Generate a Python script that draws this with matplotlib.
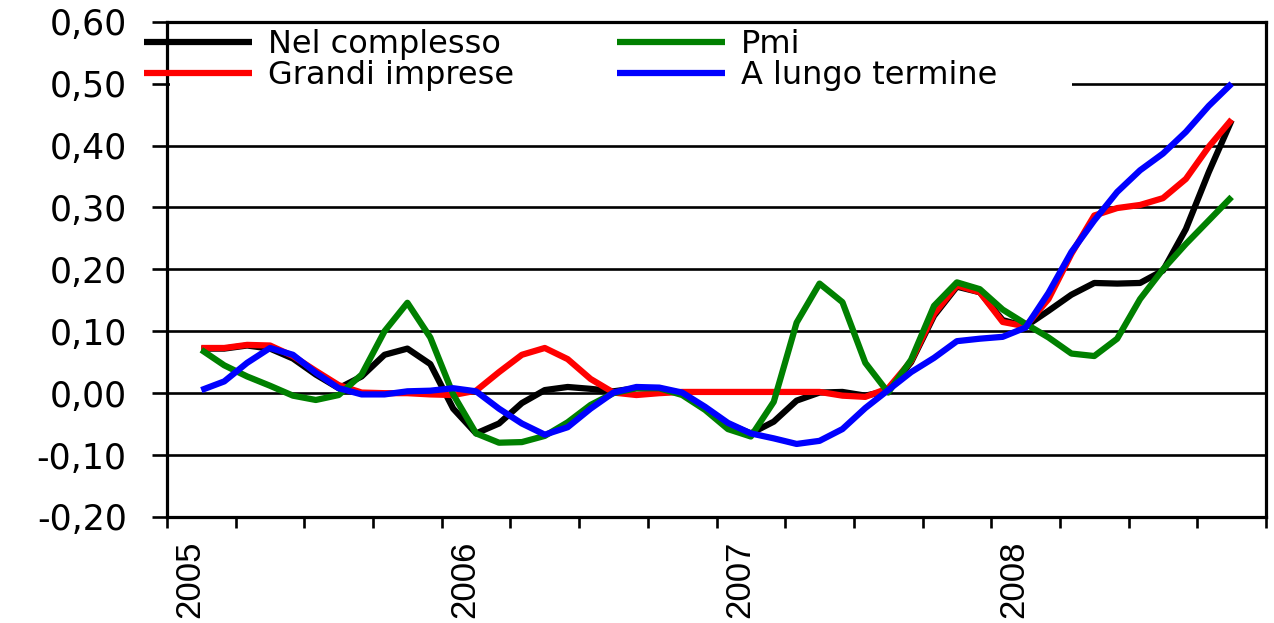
import matplotlib
matplotlib.use("Agg")
import matplotlib.pyplot as plt
from matplotlib.patches import Rectangle
import numpy as np

# ---------------- data ----------------
# month index counted from January 2005 (0 = Jan 2005)
months = list(range(1, 47))

nel_complesso = [0.072, 0.072, 0.077, 0.072, 0.056, 0.030, 0.008, 0.027, 0.062, 0.072,
                 0.047, -0.025, -0.065, -0.049, -0.016, 0.005, 0.010, 0.007, 0.003, 0.008,
                 0.007, 0.000, -0.025, -0.050, -0.065, -0.046, -0.012, 0.001, 0.002, -0.004,
                 0.004, 0.050, 0.125, 0.172, 0.163, 0.118, 0.108, 0.133, 0.159, 0.178,
                 0.177, 0.178, 0.198, 0.265, 0.357, 0.441]

grandi_imprese = [0.073, 0.073, 0.078, 0.077, 0.060, 0.036, 0.013, 0.001, 0.000, 0.000,
                  -0.002, -0.003, 0.004, 0.034, 0.062, 0.073, 0.055, 0.023, 0.001, -0.003,
                  0.000, 0.002, 0.002, 0.002, 0.002, 0.002, 0.002, 0.002, -0.004, -0.006,
                  0.008, 0.052, 0.128, 0.174, 0.163, 0.115, 0.108, 0.152, 0.225, 0.287,
                  0.299, 0.304, 0.315, 0.346, 0.398, 0.442]

pmi = [0.070, 0.045, 0.027, 0.012, -0.004, -0.011, -0.003, 0.030, 0.100, 0.146,
       0.090, -0.002, -0.065, -0.080, -0.079, -0.069, -0.047, -0.019, 0.000, 0.008,
       0.008, -0.003, -0.027, -0.058, -0.070, -0.014, 0.114, 0.177, 0.147, 0.049,
       0.001, 0.054, 0.141, 0.179, 0.168, 0.135, 0.112, 0.090, 0.064, 0.060,
       0.088, 0.152, 0.200, 0.241, 0.279, 0.317]

a_lungo_termine = [0.005, 0.019, 0.049, 0.073, 0.062, 0.033, 0.008, -0.002, -0.002, 0.003,
                   0.004, 0.008, 0.003, -0.025, -0.049, -0.067, -0.055, -0.025, 0.001, 0.010,
                   0.009, 0.001, -0.022, -0.048, -0.065, -0.073, -0.082, -0.077, -0.058, -0.024,
                   0.005, 0.034, 0.057, 0.084, 0.088, 0.091, 0.106, 0.162, 0.228, 0.279,
                   0.325, 0.360, 0.387, 0.422, 0.464, 0.500]

series_names = ["Nel complesso", "Grandi imprese", "Pmi", "A lungo termine"]
series_colors = ["#000000", "#ff0000", "#008000", "#0000ff"]

year_labels = ["2005", "2006", "2007", "2008"]
y_ticks = [-0.20, -0.10, 0.00, 0.10, 0.20, 0.30, 0.40, 0.50, 0.60]
y_tick_labels = ["-0,20", "-0,10", "0,00", "0,10", "0,20", "0,30", "0,40", "0,50", "0,60"]

# ---------------- figure ----------------
W, H = 1274, 623
fig = plt.figure(figsize=(W / 100, H / 100), dpi=100)
fig.patch.set_facecolor("white")
left, right, top, bottom = 167, 1266, 21.7, 517
ax = fig.add_axes([left / W, 1 - bottom / H, (right - left) / W, (bottom - top) / H])

x = np.array(months) + 0.5
handles = []
for vals, name, col in zip([nel_complesso, grandi_imprese, pmi, a_lungo_termine],
                           series_names, series_colors):
    ln, = ax.plot(x, vals, color=col, lw=4.5, label=name,
                  solid_joinstyle="round", solid_capstyle="butt", zorder=2)
    handles.append(ln)

ax.set_xlim(0, 48)
ax.set_ylim(-0.20, 0.60)

# y axis
ax.set_yticks(y_ticks)
ax.set_yticklabels(y_tick_labels, fontsize=25, family="DejaVu Sans")
ax.tick_params(axis="y", which="major", direction="out", length=11, width=1.9, pad=18,
               color="black")
ax.yaxis.grid(True, color="black", lw=1.9)
ax.set_axisbelow(True)

# x axis: quarterly tick marks, year labels
ax.set_xticks(np.arange(0, 49, 3))
ax.set_xticklabels([])
ax.tick_params(axis="x", which="major", direction="out", length=8, width=1.9, color="black")
ax.set_xticks([12 * k + 1.0 for k in range(len(year_labels))], minor=True)
ax.set_xticklabels(year_labels, minor=True, rotation=90, fontsize=25,
                   family="Liberation Sans")
ax.tick_params(axis="x", which="minor", length=0, pad=17)

for s in ax.spines.values():
    s.set_color("black")
    s.set_linewidth(2.3)

# legend
fs = 23
em = fs * 100 / 72.0
leg = ax.legend(handles, series_names, ncol=2, loc="upper left",
                bbox_to_anchor=(141 / W, 1 - 26 / H), bbox_transform=fig.transFigure,
                frameon=False, borderpad=0.1, borderaxespad=0,
                handlelength=108 / em, handletextpad=16 / em, columnspacing=3.2,
                labelspacing=0.0, prop={"family": "DejaVu Sans", "size": fs})

# white background behind the legend (hides the gridline, keeps spine visible)
fig.canvas.draw()
bb = leg.get_window_extent(fig.canvas.get_renderer())
inv = ax.transAxes.inverted()
(x0, y0), (x1, y1) = inv.transform([[bb.x0, bb.y0], [bb.x1, bb.y1]])
x0 = max(x0, 0.003)
ax.add_patch(Rectangle((x0, y0), x1 - x0 + 0.065, min(y1, 0.985) - y0, transform=ax.transAxes,
                       facecolor="white", edgecolor="none", zorder=1))

fig.savefig("out.png", dpi=100, facecolor="white")
